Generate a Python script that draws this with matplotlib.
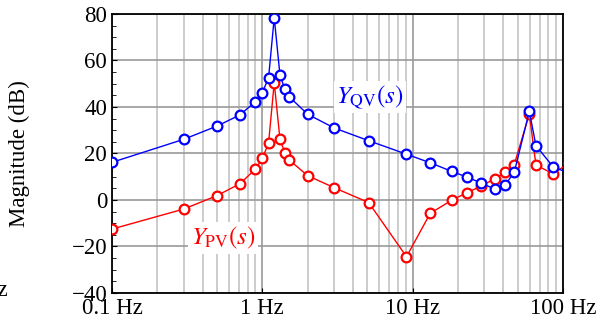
import matplotlib
matplotlib.use('Agg')
import matplotlib.pyplot as plt

plt.rcParams['font.family'] = 'Liberation Serif'
plt.rcParams['mathtext.fontset'] = 'stix'

freq = [0.1, 0.3, 0.5, 0.71, 0.9, 1.0, 1.1, 1.2, 1.31, 1.41, 1.51, 2.0, 3.0,
        5.1, 9.1, 13.1, 18.2, 23.1, 28.6, 35.3, 41.2, 47.4, 59.7, 66.1, 85.9, 110.0]
y_qv = [16.2, 26.1, 31.8, 36.6, 42.3, 46.2, 52.5, 78.4, 53.8, 47.7, 44.4, 36.9, 31.0,
        25.5, 19.7, 16.0, 12.3, 9.8, 7.3, 4.6, 6.5, 11.9, 38.1, 23.4, 14.3, 11.5]
y_pv = [-12.5, -3.9, 1.9, 7.0, 13.3, 17.9, 24.4, 50.5, 26.1, 20.4, 17.2, 10.5, 5.3,
        -1.1, -24.4, -5.7, -0.1, 3.2, 6.0, 9.2, 11.9, 15.2, 37.0, 15.1, 11.2, 16.0]

xticks = [0.1, 1, 10, 100]
xticklabels = ['0.1 Hz', '1 Hz', '10 Hz', '100 Hz']
yticks = [-40, -20, 0, 20, 40, 60, 80]

fig = plt.figure(figsize=(6.11, 3.24), dpi=100)
ax = fig.add_axes([0.1833, 0.0957, 0.7381, 0.8611])

ax.set_xscale('log')
ax.set_xlim(0.1, 100)
ax.set_ylim(-40, 80)

# grid: darker major lines, lighter minor ones
ax.grid(True, which='major', axis='x', color='#999999', linewidth=1.2)
ax.grid(True, which='minor', axis='x', color='#c8c8c8', linewidth=1.3)
ax.grid(True, which='major', axis='y', color='#999999', linewidth=1.2)

ax.plot(freq, y_pv, color='red', linewidth=1, marker='o', markersize=7,
        markerfacecolor='white', markeredgewidth=1.6, zorder=3)
ax.plot(freq, y_qv, color='blue', linewidth=1, marker='o', markersize=7,
        markerfacecolor='white', markeredgewidth=1.6, zorder=4)

ax.set_xticks(xticks)
ax.set_xticklabels(xticklabels)
ax.set_yticks(yticks)
ax.set_yticks(range(-40, 81, 5), minor=True)
ax.tick_params(which='both', direction='in', labelsize=16.5)
ax.tick_params(axis='y', which='minor', length=3)
ax.tick_params(axis='x', which='minor', length=0)
ax.set_ylabel('Magnitude (dB)', fontsize=16.5)
ax.yaxis.set_label_coords(-0.182, 0.5)
for s in ax.spines.values():
    s.set_linewidth(1.3)

# fragment of the neighbouring panel's label
fig.text(8 / 611, 1 - 291 / 324, 'Hz', fontsize=16.5, ha='right', va='center')

# curve labels, placed in pixels (origin bottom-left)
ax.text(370, 324 - 97, r'$Y_{\rm QV}(s)$', transform=None, color='blue', fontsize=18,
        ha='center', va='center', zorder=5,
        bbox=dict(facecolor='white', edgecolor='none', pad=2))
ax.text(223, 324 - 238, r'$Y_{\rm PV}(s)$', transform=None, color='red', fontsize=18,
        ha='center', va='center', zorder=5,
        bbox=dict(facecolor='white', edgecolor='none', pad=2))

fig.savefig('out.png', dpi=100)
